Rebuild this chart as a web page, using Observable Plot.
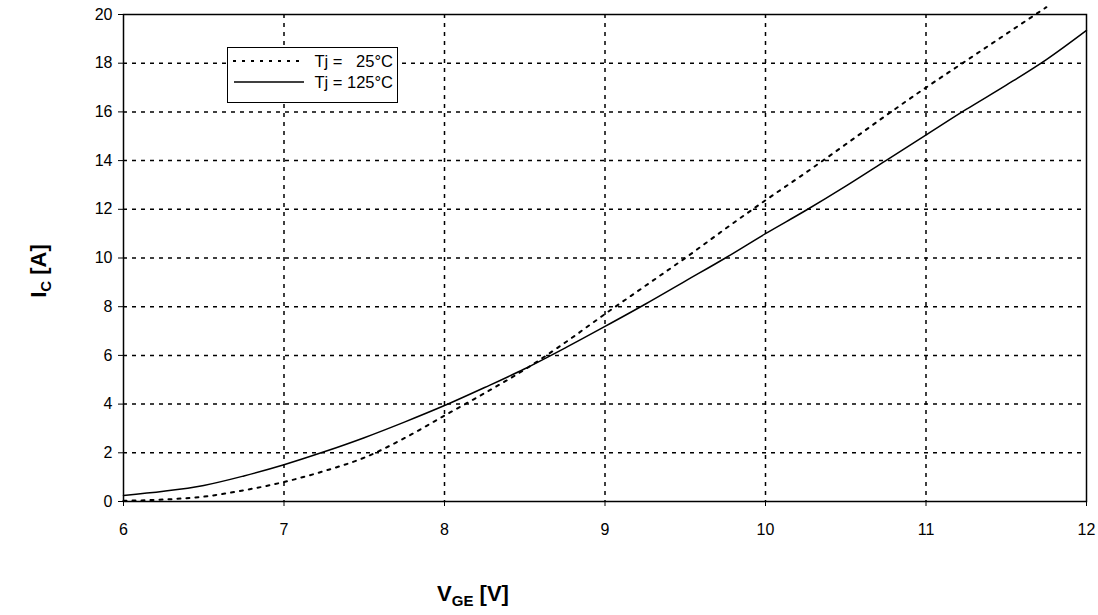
<!DOCTYPE html>
<html>
<head>
<meta charset="utf-8">
<script src="https://cdn.jsdelivr.net/npm/d3@7"></script>
<script src="https://cdn.jsdelivr.net/npm/@observablehq/plot@0.6"></script>
<style>
  html, body { margin: 0; padding: 0; background: #fff; }
  #chart { position: relative; width: 1098px; height: 615px; }
  svg text { font-family: "Liberation Sans", Arial, sans-serif; }
</style>
</head>
<body>
<div id="chart"></div>
<script>
const vge = [6, 6.25, 6.5, 6.75, 7, 7.25, 7.5, 7.75, 8, 8.25, 8.5, 8.75, 9, 9.25, 9.5, 9.75, 10, 10.25, 10.5, 10.75, 11, 11.25, 11.5, 11.75, 12];
const ic125 = [0.25, 0.42, 0.66, 1.05, 1.51, 2.04, 2.62, 3.26, 3.94, 4.68, 5.45, 6.3, 7.19, 8.1, 9.05, 10.0, 11.0, 11.95, 12.95, 14.0, 15.05, 16.1, 17.1, 18.15, 19.35];
const vge25 = [6, 6.25, 6.5, 6.75, 7, 7.25, 7.5, 7.75, 8, 8.25, 8.5, 8.75, 9, 9.25, 9.5, 9.75, 10, 10.25, 10.5, 10.75, 11, 11.25, 11.5, 11.75];
const ic25 = [0.03, 0.08, 0.2, 0.46, 0.8, 1.25, 1.8, 2.6, 3.53, 4.45, 5.42, 6.52, 7.7, 8.85, 10.0, 11.2, 12.37, 13.5, 14.67, 15.85, 17.0, 18.1, 19.2, 20.3];
const xTicks = [6, 7, 8, 9, 10, 11, 12];
const yTicks = [0, 2, 4, 6, 8, 10, 12, 14, 16, 18, 20];
const legendLabels = ["Tj =   25°C", "Tj = 125°C"];

const d125 = vge.map((x, i) => ({x, y: ic125[i]}));
const d25 = vge25.map((x, i) => ({x, y: ic25[i]}));

const plot = Plot.plot({
  width: 1098,
  height: 615,
  marginLeft: 123,
  marginRight: 12,
  marginTop: 14,
  marginBottom: 114,
  style: {fontFamily: '"Liberation Sans", Arial, sans-serif', fontSize: "16px", color: "#000", background: "#fff", overflow: "visible"},
  x: {domain: [6, 12]},
  y: {domain: [0, 20]},
  marks: [
    Plot.gridX(xTicks.slice(1, -1), {stroke: "#000", strokeOpacity: 1, strokeWidth: 1.5, strokeDasharray: "4,5"}),
    Plot.gridY(yTicks.slice(1, -1), {stroke: "#000", strokeOpacity: 1, strokeWidth: 1.5, strokeDasharray: "4,5"}),
    Plot.axisX(xTicks, {tickSize: 5, tickPadding: 17, fontSize: 16, tickFormat: d => String(d), label: null, stroke: "#000"}),
    Plot.axisY(yTicks, {tickSize: 5, tickPadding: 6, fontSize: 16, tickFormat: d => String(d), label: null, stroke: "#000"}),
    Plot.frame({stroke: "#000", strokeWidth: 1.5}),
    Plot.line(d25, {x: "x", y: "y", curve: "monotone-x", stroke: "#000", strokeWidth: 2, strokeDasharray: "3,6"}),
    Plot.line(d125, {x: "x", y: "y", curve: "monotone-x", stroke: "#000", strokeWidth: 1.5})
  ]
});

document.getElementById("chart").appendChild(plot);
const svg = d3.select(plot);

// Legend
const lg = svg.append("g");
lg.append("rect").attr("x", 227.5).attr("y", 47.5).attr("width", 170).attr("height", 55)
  .attr("fill", "#fff").attr("stroke", "#000").attr("stroke-width", 1);
lg.append("line").attr("x1", 233).attr("x2", 304).attr("y1", 61).attr("y2", 61)
  .attr("stroke", "#000").attr("stroke-width", 2).attr("stroke-dasharray", "3,6");
lg.append("line").attr("x1", 234).attr("x2", 304).attr("y1", 82).attr("y2", 82)
  .attr("stroke", "#000").attr("stroke-width", 1.5);
legendLabels.forEach((t, i) => {
  lg.append("text").attr("x", 393).attr("y", 67 + i * 21).attr("text-anchor", "end")
    .attr("font-size", 16.5).attr("fill", "#000").style("white-space", "pre").attr("xml:space", "preserve").text(t);
});

// Axis titles
const xt = svg.append("text").attr("x", 473).attr("y", 601).attr("text-anchor", "middle")
  .attr("font-size", 22).attr("font-weight", "bold").attr("fill", "#000");
xt.append("tspan").text("V");
xt.append("tspan").attr("font-size", 15).attr("dy", 5).text("GE");
xt.append("tspan").attr("dy", -5).text(" [V]");

const yt = svg.append("text").attr("transform", "translate(46,271) rotate(-90)").attr("text-anchor", "middle")
  .attr("font-size", 22).attr("font-weight", "bold").attr("fill", "#000");
yt.append("tspan").text("I");
yt.append("tspan").attr("font-size", 15).attr("dy", 5).text("C");
yt.append("tspan").attr("dy", -5).text(" [A]");
</script>
</body>
</html>
